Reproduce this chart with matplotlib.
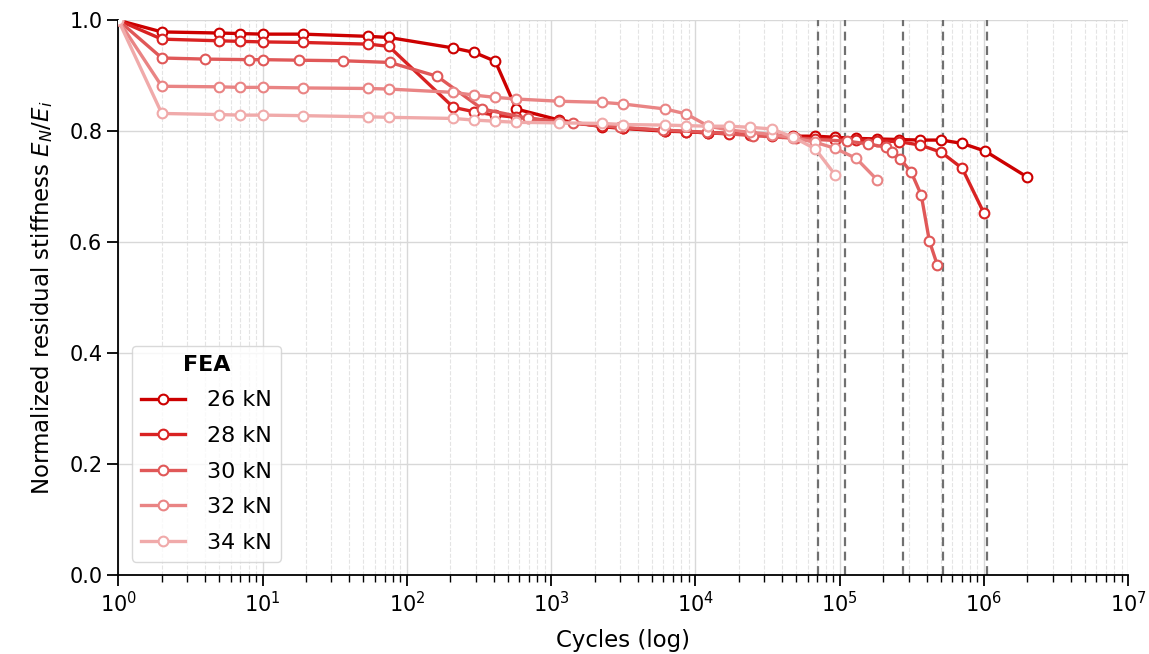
import numpy as np
import matplotlib
matplotlib.use("Agg")
import matplotlib.pyplot as plt
from matplotlib.ticker import LogLocator, NullFormatter

# DATA
loads = ["26 kN", "28 kN", "30 kN", "32 kN", "34 kN"]
colors = ["#cc0000", "#d92222", "#e05858", "#e98484", "#f0aaaa"]

n26 = [1, 2, 5, 7, 10, 19, 54, 75, 210, 293, 410, 573, 1140, 2260, 3160, 6180, 8650,
       12300, 17200, 24000, 34000, 47700, 67700, 93100, 130000, 182000, 258000,
       361000, 506000, 706000, 1020000, 2000000]
s26 = [1.0, 0.979, 0.977, 0.976, 0.975, 0.975, 0.971, 0.969, 0.950, 0.942, 0.926, 0.840,
       0.820, 0.808, 0.805, 0.800, 0.799, 0.797, 0.796, 0.795, 0.793, 0.791, 0.791,
       0.789, 0.787, 0.786, 0.785, 0.784, 0.784, 0.778, 0.764, 0.717]

n28 = [1, 2, 5, 7, 10, 19, 54, 75, 210, 293, 410, 573, 1140, 2260, 3160, 6180, 8650,
       12300, 17200, 24000, 34000, 47700, 67700, 93100, 130000, 182000, 258000,
       361000, 506000, 706000, 1000000]
s28 = [1.0, 0.966, 0.963, 0.962, 0.961, 0.960, 0.957, 0.953, 0.843, 0.835, 0.829, 0.825,
       0.818, 0.809, 0.806, 0.801, 0.799, 0.797, 0.795, 0.794, 0.792, 0.789, 0.786,
       0.785, 0.784, 0.783, 0.781, 0.775, 0.762, 0.733, 0.652]

n30 = [1, 2, 4, 8, 10, 18, 36, 76, 162, 333, 694, 1420, 3000, 6000, 12000, 25000,
       50000, 113000, 158000, 210000, 231000, 263000, 313000, 367000, 418000, 474000]
s30 = [1.0, 0.932, 0.930, 0.929, 0.929, 0.928, 0.927, 0.924, 0.899, 0.840, 0.823, 0.814,
       0.807, 0.802, 0.798, 0.792, 0.787, 0.782, 0.777, 0.771, 0.762, 0.750, 0.726,
       0.685, 0.602, 0.559]

n32 = [1, 2, 5, 7, 10, 19, 54, 75, 210, 293, 410, 573, 1140, 2260, 3160, 6180, 8650,
       12300, 17200, 24000, 34000, 47700, 67700, 93100, 130000, 182000]
s32 = [1.0, 0.881, 0.880, 0.879, 0.879, 0.878, 0.877, 0.876, 0.870, 0.865, 0.861, 0.858,
       0.854, 0.852, 0.849, 0.840, 0.831, 0.809, 0.802, 0.798, 0.794, 0.788, 0.780,
       0.769, 0.751, 0.712]

n34 = [1, 2, 5, 7, 10, 19, 54, 75, 210, 293, 410, 573, 1140, 2260, 3160, 6180, 8650,
       12300, 17200, 24000, 34000, 47700, 67700, 93100]
s34 = [1.0, 0.832, 0.830, 0.829, 0.829, 0.828, 0.826, 0.825, 0.823, 0.820, 0.818, 0.816,
       0.815, 0.814, 0.812, 0.811, 0.810, 0.809, 0.809, 0.807, 0.804, 0.789, 0.768,
       0.721]

cycles = [n26, n28, n30, n32, n34]
stiff = [s26, s28, s30, s32, s34]

# experimental failure cycles (dashed lines)
n_fail = [71000, 109000, 276000, 522000, 1054000]

###############################################################################
# PLOT
fig, ax = plt.subplots(figsize=(11.49, 6.54), dpi=100)

for nf in n_fail:
    ax.axvline(nf, color="#707070", ls=(0, (4, 2.5)), lw=1.6, zorder=1)

for n, s, lab, c in zip(cycles, stiff, loads, colors):
    ax.plot(n, s, "-o", color=c, lw=2.4, ms=7, mfc="white", mec=c, mew=1.5,
            label=lab, zorder=3)

ax.set_xscale("log")
ax.set_xlim(1, 1e7)
ax.set_ylim(0, 1.0)
ax.set_yticks([0.0, 0.2, 0.4, 0.6, 0.8, 1.0])
ax.set_yticklabels(["0.0", "0.2", "0.4", "0.6", "0.8", "1.0"])
ax.xaxis.set_major_locator(LogLocator(base=10, numticks=10))
ax.xaxis.set_minor_locator(LogLocator(base=10, subs=np.arange(2, 10), numticks=100))
ax.xaxis.set_minor_formatter(NullFormatter())

ax.grid(True, which="major", color="#d8d8d8", lw=1.0, zorder=0)
ax.grid(True, which="minor", axis="x", color="#e4e4e4", ls="--", lw=0.8, zorder=0)
ax.set_axisbelow(True)

for sp in ["top", "right"]:
    ax.spines[sp].set_visible(False)
ax.spines["left"].set_linewidth(1.3)
ax.spines["bottom"].set_linewidth(1.3)
ax.tick_params(axis="both", which="major", length=8, width=1.3, labelsize=15, direction="out")
ax.tick_params(axis="x", which="minor", length=5, width=1.0)

ax.set_xlabel("Cycles (log)", fontsize=16.5, labelpad=9)
ax.set_ylabel("Normalized residual stiffness $E_N/E_i$", fontsize=16.5, labelpad=10)

leg = ax.legend(title="FEA", loc="lower left", fontsize=16, title_fontsize=16,
                frameon=True, borderaxespad=0.6, handlelength=2.0, labelspacing=0.7,
                handletextpad=1.0)
leg.get_title().set_fontweight("bold")
leg.get_frame().set_edgecolor("#d0d0d0")

fig.subplots_adjust(left=0.103, right=0.982, top=0.969, bottom=0.121)
fig.savefig("out.png", dpi=100)
